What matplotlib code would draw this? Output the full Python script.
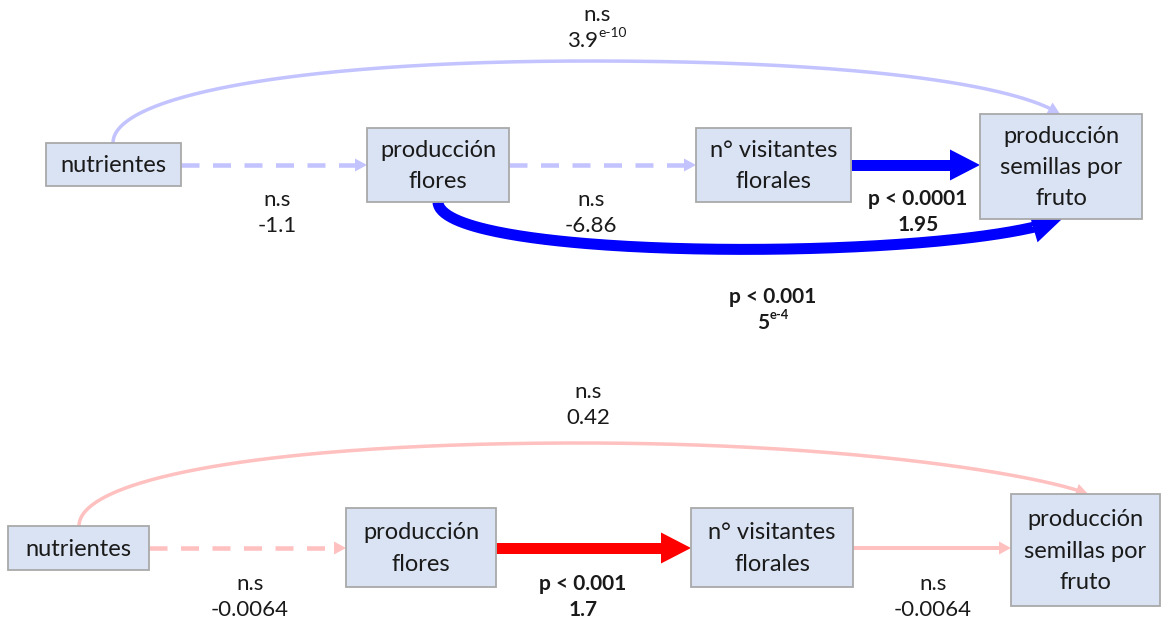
import numpy as np
import matplotlib
matplotlib.use("Agg")
import matplotlib.pyplot as plt
from matplotlib.patches import Rectangle, Polygon

plt.rcParams['font.family'] = ['Lato', 'DejaVu Sans']

# ---------------- model content ----------------
node_keys = ["nut", "flo", "vis", "sem"]
node_labels = ["nutrientes", "producción\nflores", "n° visitantes\nflorales",
               "producción\nsemillas por\nfruto"]

# upper path model
top_edges = [("nut", "flo"), ("flo", "vis"), ("vis", "sem"), ("flo", "sem"), ("nut", "sem")]
top_significance = ["n.s", "n.s", "p < 0.0001", "p < 0.001", "n.s"]
top_coefficients = [-1.1, -6.86, 1.95, 5e-4, 3.9e-10]

# lower path model
bottom_edges = [("nut", "flo"), ("flo", "vis"), ("vis", "sem"), ("nut", "sem")]
bottom_significance = ["n.s", "p < 0.001", "n.s", "n.s"]
bottom_coefficients = [-0.0064, 1.7, -0.0064, 0.42]

# ---------------- layout (pixel canvas) ----------------
W, H = 1164, 624
top_boxes = {"nut": (46, 143, 181, 186), "flo": (367, 128, 509, 202),
             "vis": (696, 128, 851, 202), "sem": (980, 114, 1142, 219)}
bottom_boxes = {"nut": (8, 526, 149, 570), "flo": (346, 508, 496, 587),
                "vis": (691, 508, 853, 587), "sem": (1011, 494, 1160, 606)}

LIGHT_BLUE = "#C3C3FF"
BLUE = "#0000FF"
LIGHT_RED = "#FFC0C0"
RED = "#FF0000"
BOX_FILL = "#DAE3F3"
BOX_EDGE = "#A9A9A9"
TEXT = "#1A1A1A"

thin = dict(width=4.5, head_len=12, head_w=13)
thick = dict(width=11, head_len=30, head_w=31)

top_style = {
    ("nut", "flo"): dict(color=LIGHT_BLUE, dashed=True, **thin),
    ("flo", "vis"): dict(color=LIGHT_BLUE, dashed=True, **thin),
    ("vis", "sem"): dict(color=BLUE, dashed=False, **thick),
    ("flo", "sem"): dict(color=BLUE, dashed=False, **thick),
    ("nut", "sem"): dict(color=LIGHT_BLUE, dashed=False, width=3.5, head_len=12, head_w=13),
}
bottom_style = {
    ("nut", "flo"): dict(color=LIGHT_RED, dashed=True, **thin),
    ("flo", "vis"): dict(color=RED, dashed=False, **thick),
    ("vis", "sem"): dict(color=LIGHT_RED, dashed=False, width=4, head_len=12, head_w=13),
    ("nut", "sem"): dict(color=LIGHT_RED, dashed=False, width=3.5, head_len=12, head_w=13),
}

# curved routes as chains of cubic Bezier control points
top_curves = {
    ("flo", "sem"): [[(438, 202), (440, 262), (950, 262), (1062, 219)]],
    ("nut", "sem"): [[(113, 143), (113, 95), (300, 61), (590, 61)],
                     [(590, 61), (880, 61), (1020, 88), (1060, 114)]],
}
bottom_curves = {
    ("nut", "sem"): [[(79, 526), (79, 478), (270, 443), (580, 443)],
                     [(580, 443), (850, 443), (1040, 475), (1088, 494)]],
}
top_line_y = 165
bottom_line_y = 548

# label anchor (centre x, y of first line)
top_label_pos = {("nut", "flo"): (277, 200), ("flo", "vis"): (591, 200),
                 ("vis", "sem"): (918, 199), ("flo", "sem"): (773, 297),
                 ("nut", "sem"): (597, 15)}
bottom_label_pos = {("nut", "flo"): (250, 584), ("flo", "vis"): (583, 584),
                    ("vis", "sem"): (933, 584), ("nut", "sem"): (588, 392)}
LINE_GAP = 26

BOX_FS = 17
LABEL_FS = 16
BOLD_FS = 15

fig = plt.figure(figsize=(W / 100, H / 100), dpi=100)
ax = fig.add_axes([0, 0, 1, 1])
ax.set_xlim(0, W)
ax.set_ylim(H, 0)
ax.axis("off")

PT = 0.72  # points per pixel at 100 dpi


def cubic(ctrl, n=150):
    p = np.asarray(ctrl, float)
    t = np.linspace(0, 1, n)[:, None]
    return ((1 - t) ** 3 * p[0] + 3 * (1 - t) ** 2 * t * p[1]
            + 3 * (1 - t) * t ** 2 * p[2] + t ** 3 * p[3])


def draw_arrow(pts, color, width, head_len, head_w, dashed):
    pts = np.asarray(pts, float)
    tip = pts[-1]
    seg = np.hypot(*np.diff(pts, axis=0).T)
    dist_to_tip = np.concatenate([np.cumsum(seg[::-1])[::-1], [0.0]])
    # head direction taken from the point one head-length back along the path
    back = pts[np.argmin(np.abs(dist_to_tip - head_len))]
    u = (tip - back) / np.hypot(*(tip - back))
    nrm = np.array([-u[1], u[0]])
    base = tip - u * head_len
    shaft = pts[dist_to_tip >= head_len * 0.85]
    shaft = np.vstack([shaft, tip - u * head_len * 0.85])
    kw = dict(color=color, lw=width * PT, solid_capstyle="butt", zorder=2)
    if dashed:
        kw.update(dashes=(4, 3), dash_capstyle="butt")
    ax.plot(shaft[:, 0], shaft[:, 1], **kw)
    ax.add_patch(Polygon([tip, base + nrm * head_w / 2, base - nrm * head_w / 2],
                         closed=True, facecolor=color, edgecolor="none", zorder=2))


def draw_boxes(boxes):
    for key, label in zip(node_keys, node_labels):
        x0, y0, x1, y1 = boxes[key]
        ax.add_patch(Rectangle((x0, y0), x1 - x0, y1 - y0, facecolor=BOX_FILL,
                               edgecolor=BOX_EDGE, lw=1.3, zorder=3))
        ax.text((x0 + x1) / 2, (y0 + y1) / 2 + 1, label, ha="center", va="center",
                fontsize=BOX_FS, color=TEXT, linespacing=1.6, zorder=4)


def coef_parts(v):
    """Split very small coefficients into mantissa and 'e-n' superscript."""
    if v != 0 and abs(v) < 1e-3:
        m, e = f"{v:e}".split("e")
        return f"{float(m):g}", f"e{int(e)}"
    return f"{v:g}", None


renderer = fig.canvas.get_renderer()


def draw_label(pos, sig, value):
    x, y = pos
    bold = sig.startswith("p")
    weight = "bold" if bold else "normal"
    fs = BOLD_FS if bold else LABEL_FS
    ax.text(x, y, sig, ha="center", va="center", fontsize=fs,
            fontweight=weight, color=TEXT)
    mant, sup = coef_parts(value)
    y2 = y + LINE_GAP
    if sup is None:
        ax.text(x, y2, mant, ha="center", va="center", fontsize=fs,
                fontweight=weight, color=TEXT)
        return
    t1 = ax.text(0, y2, mant, ha="left", va="center", fontsize=fs,
                 fontweight=weight, color=TEXT)
    t2 = ax.text(0, y2 - 8, sup, ha="left", va="center", fontsize=fs * 0.62,
                 fontweight=weight, color=TEXT)
    w1 = t1.get_window_extent(renderer).width
    w2 = t2.get_window_extent(renderer).width
    x_start = x - (w1 + w2 + 1) / 2
    t1.set_x(x_start)
    t2.set_x(x_start + w1 + 1)


def draw_model(edges, sig, coefs, boxes, styles, curves, line_y, label_pos):
    for edge, s, c in zip(edges, sig, coefs):
        if edge in curves:
            pts = np.vstack([cubic(seg) for seg in curves[edge]])
        else:
            x_start = boxes[edge[0]][2]
            x_end = boxes[edge[1]][0]
            pts = np.column_stack([np.linspace(x_start, x_end, 100),
                                   np.full(100, line_y)])
        draw_arrow(pts, **styles[edge])
        draw_label(label_pos[edge], s, c)
    draw_boxes(boxes)


draw_model(top_edges, top_significance, top_coefficients, top_boxes, top_style,
           top_curves, top_line_y, top_label_pos)
draw_model(bottom_edges, bottom_significance, bottom_coefficients, bottom_boxes,
           bottom_style, bottom_curves, bottom_line_y, bottom_label_pos)

fig.savefig("out.png", dpi=100, facecolor="white")
